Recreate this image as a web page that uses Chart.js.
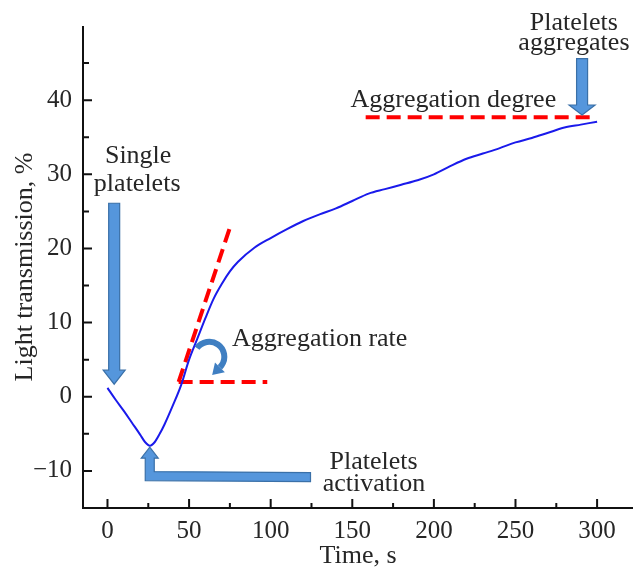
<!DOCTYPE html>
<html>
<head>
<meta charset="utf-8">
<script src="https://cdn.jsdelivr.net/npm/chart.js@4"></script>
<style>
  html, body { margin: 0; padding: 0; background: #fff; }
</style>
</head>
<body>
<canvas id="chart" width="642" height="572"></canvas>
<script>
// ─── Data ────────────────────────────────────────────────────────────────────

const times = [0, 5, 10, 15, 20, 23, 26, 29, 32, 35, 40, 45, 50, 55, 60, 65, 70, 75, 80, 90, 100, 110,
  120, 130, 140, 150, 160, 170, 180, 190, 200, 210, 220, 230, 240, 250, 260, 270, 280, 290, 300];
const transmission = [1.2, -0.4, -1.9, -3.5, -5.1, -6.1, -6.6, -6.1, -5.0, -3.7, -1.2, 1.5, 5.0, 7.8, 10.6, 13.2, 15.2, 16.9, 18.2, 20.1, 21.4, 22.6,
  23.7, 24.6, 25.4, 26.4, 27.4, 28.0, 28.6, 29.2, 30.0, 31.1, 32.1, 32.8, 33.5, 34.3, 34.9, 35.6, 36.3, 36.7, 37.1];

// red dashed construction lines: [x0, y0, x1, y1]
const rateTangent = [43.6, 2.0, 75.3, 23.0];
const rateBase = [43.6, 2.0, 97.9, 2.0];
const degreeLine = [158.2, 37.7, 296.3, 37.7];

const xTicks = [0, 25, 50, 75, 100, 125, 150, 175, 200, 225, 250, 275, 300];
const yTicks = [-10, -5, 0, 5, 10, 15, 20, 25, 30, 35, 40, 45];

// annotation anchors (data units)
const arrowSingle = [4.1, 26.1, 1.7];       // x, top, tip
const arrowAggregates = [290.8, 45.6, 38.0];
const arrowActivation = [25.9, -6.8, 124.4, -10.7]; // tip x, tip y, bar end x, bar y
const arrowRate = [62.4, 5.4];
const labels = [
  ["Single", 18.8, 31.5],
  ["platelets", 18.2, 27.7],
  ["Platelets", 285.8, 49.4],
  ["aggregates", 285.8, 46.7],
  ["Aggregation degree", 211.9, 39.1],
  ["Aggregation rate", 130.0, 6.8],
  ["Platelets", 163.1, -9.7],
  ["activation", 163.3, -12.7],
];

// ─── Helpers ─────────────────────────────────────────────────────────────────

const FONT = '"Liberation Serif", "Times New Roman", serif';
const TEXT = "#262626";

const pts = (xs, ys) => xs.map((x, i) => ({ x, y: ys[i] }));
const seg = (s) => [{ x: s[0], y: s[1] }, { x: s[2], y: s[3] }];

function dashed(data) {
  return {
    data,
    borderColor: "#ff0000",
    borderWidth: 4,
    borderDash: [14, 7],
    pointRadius: 0,
    fill: false,
  };
}

function polygon(ctx, p, fill, stroke) {
  ctx.beginPath();
  ctx.moveTo(p[0][0], p[0][1]);
  for (let i = 1; i < p.length; i++) ctx.lineTo(p[i][0], p[i][1]);
  ctx.closePath();
  ctx.fillStyle = fill;
  ctx.fill();
  ctx.strokeStyle = stroke;
  ctx.lineWidth = 1.2;
  ctx.stroke();
}

function downArrow(ctx, x, top, tip, sw, hw, hl) {
  polygon(ctx, [
    [x - sw / 2, top], [x + sw / 2, top], [x + sw / 2, tip - hl], [x + hw / 2, tip - hl],
    [x, tip], [x - hw / 2, tip - hl], [x - sw / 2, tip - hl],
  ], "#5596dc", "#3a70a8");
}

// ─── Plugin: axes, inward ticks, arrows, labels ──────────────────────────────

const decor = {
  id: "decor",
  afterDatasetsDraw(chart) {
    const { ctx, chartArea: a, scales: { x, y } } = chart;
    ctx.save();

    // axis lines
    ctx.strokeStyle = "#111";
    ctx.lineWidth = 2;
    ctx.beginPath();
    ctx.moveTo(a.left, a.top);
    ctx.lineTo(a.left, a.bottom);
    ctx.lineTo(a.right, a.bottom);
    ctx.stroke();

    // inward ticks
    ctx.lineWidth = 2;
    ctx.beginPath();
    xTicks.forEach((v) => {
      const px = x.getPixelForValue(v);
      const len = v % 50 === 0 ? 9 : 5;
      ctx.moveTo(px, a.bottom);
      ctx.lineTo(px, a.bottom - len);
    });
    yTicks.forEach((v) => {
      const py = y.getPixelForValue(v);
      const len = v % 10 === 0 ? 9 : 6;
      ctx.moveTo(a.left, py);
      ctx.lineTo(a.left + len, py);
    });
    ctx.stroke();

    // block arrows
    downArrow(ctx, x.getPixelForValue(arrowSingle[0]), y.getPixelForValue(arrowSingle[1]),
      y.getPixelForValue(arrowSingle[2]), 11, 22, 14);
    downArrow(ctx, x.getPixelForValue(arrowAggregates[0]), y.getPixelForValue(arrowAggregates[1]),
      y.getPixelForValue(arrowAggregates[2]), 11, 26, 10);

    const tx = x.getPixelForValue(arrowActivation[0]);
    const ty = y.getPixelForValue(arrowActivation[1]);
    const ex = x.getPixelForValue(arrowActivation[2]);
    const ey = y.getPixelForValue(arrowActivation[3]);
    const sw = 9, hw = 17, hl = 11;
    polygon(ctx, [
      [tx, ty], [tx + hw / 2, ty + hl], [tx + sw / 2, ty + hl], [tx + sw / 2, ey - sw / 2],
      [ex, ey - sw / 2 + 1], [ex, ey + sw / 2 + 1], [tx - sw / 2, ey + sw / 2],
      [tx - sw / 2, ty + hl], [tx - hw / 2, ty + hl],
    ], "#5596dc", "#3a70a8");

    // curved arrow (aggregation rate)
    const cx = x.getPixelForValue(arrowRate[0]);
    const cy = y.getPixelForValue(arrowRate[1]);
    const r = 15;
    const a0 = (-145 * Math.PI) / 180;
    const a1 = (45 * Math.PI) / 180;
    ctx.strokeStyle = "#3f7fc2";
    ctx.lineWidth = 6;
    ctx.beginPath();
    ctx.arc(cx, cy, r, a0, a1);
    ctx.stroke();
    const px = cx + r * Math.cos(a1), py = cy + r * Math.sin(a1);
    const dx = -Math.sin(a1), dy = Math.cos(a1);   // tangent (clockwise)
    const nx = Math.cos(a1), ny = Math.sin(a1);
    ctx.fillStyle = "#3f7fc2";
    ctx.beginPath();
    ctx.moveTo(px + nx * 7, py + ny * 7);
    ctx.lineTo(px + dx * 11, py + dy * 11);
    ctx.lineTo(px - nx * 7, py - ny * 7);
    ctx.closePath();
    ctx.fill();

    // labels
    ctx.fillStyle = TEXT;
    ctx.font = `26px ${FONT}`;
    ctx.textAlign = "center";
    ctx.textBaseline = "alphabetic";
    labels.forEach(([t, lx, ly]) => {
      ctx.fillText(t, x.getPixelForValue(lx), y.getPixelForValue(ly));
    });

    ctx.restore();
  },
};

// ─── Chart ───────────────────────────────────────────────────────────────────

new Chart(document.getElementById("chart"), {
  type: "line",
  data: {
    datasets: [
      {
        data: pts(times, transmission),
        borderColor: "#1a1aeb",
        borderWidth: 2,
        pointRadius: 0,
        cubicInterpolationMode: "monotone",
        fill: false,
      },
      dashed(seg(rateTangent)),
      dashed(seg(rateBase)),
      dashed(seg(degreeLine)),
    ],
  },
  options: {
    responsive: false,
    animation: false,
    events: [],
    layout: { padding: { top: 25, right: 9, left: 0, bottom: 0 } },
    plugins: { legend: { display: false }, tooltip: { enabled: false } },
    scales: {
      x: {
        type: "linear",
        min: -15,
        max: 322,
        afterBuildTicks: (s) => { s.ticks = xTicks.filter((v) => v % 50 === 0).map((v) => ({ value: v })); },
        afterFit: (s) => { s.height = 64; },
        grid: { display: false, drawTicks: false },
        border: { display: false },
        ticks: { color: TEXT, font: { family: FONT, size: 25 }, padding: 8, maxRotation: 0 },
        title: { display: true, text: "Time, s", color: TEXT, font: { family: FONT, size: 26 }, padding: { top: 0, bottom: 0 } },
      },
      y: {
        min: -15,
        max: 50,
        afterBuildTicks: (s) => { s.ticks = yTicks.filter((v) => v % 10 === 0).map((v) => ({ value: v })); },
        afterFit: (s) => { s.width = 83; },
        grid: { display: false, drawTicks: false },
        border: { display: false },
        ticks: {
          color: TEXT,
          font: { family: FONT, size: 25 },
          padding: 11,
          callback: (v) => (v < 0 ? "\u2212" + Math.abs(v) : String(v)),
        },
        title: { display: true, text: "Light transmission, %", color: TEXT, font: { family: FONT, size: 26 }, padding: { top: 10, bottom: 0 } },
      },
    },
  },
  plugins: [decor],
});
</script>
</body>
</html>
